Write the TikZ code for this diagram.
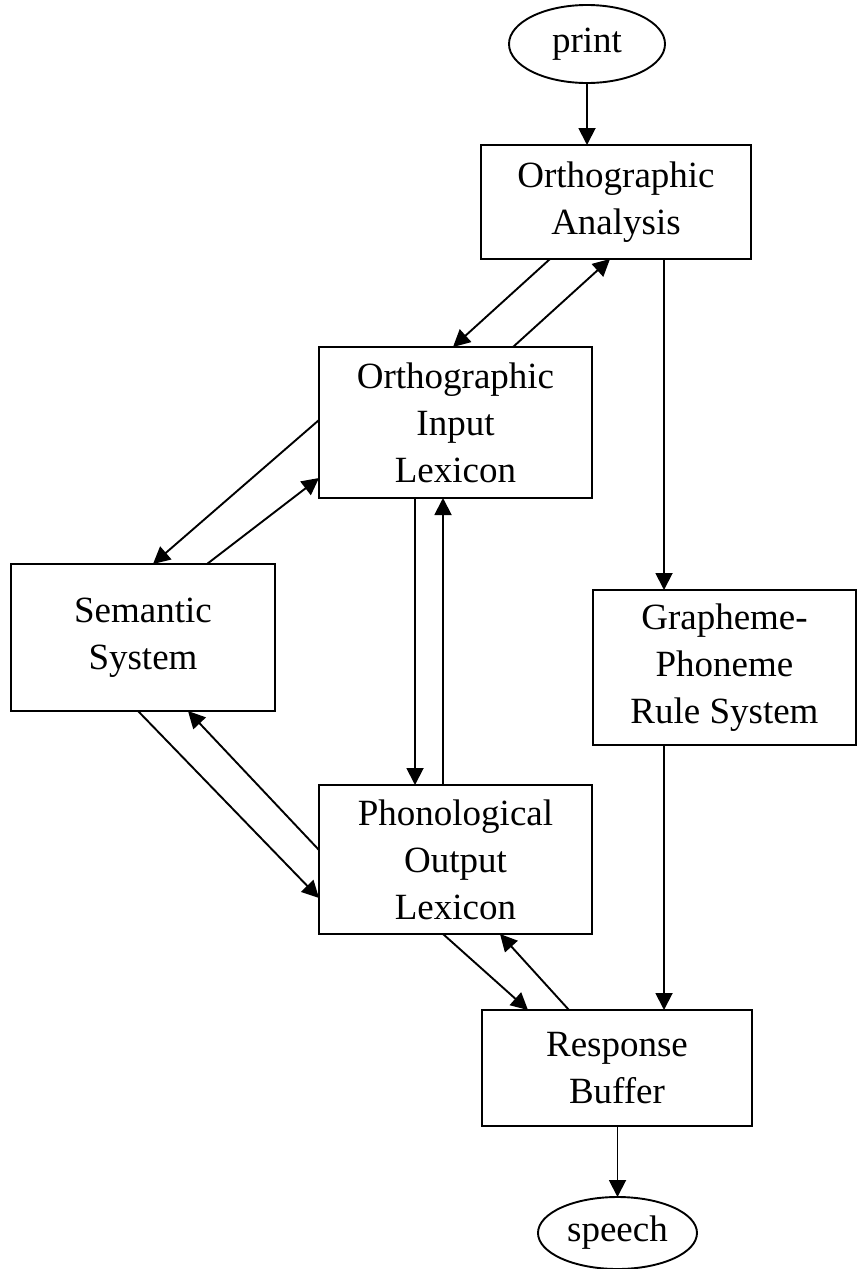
\documentclass[tikz,border=0pt]{standalone}
\usepackage{fontspec}
\setmainfont{Liberation Serif}
\usetikzlibrary{arrows.meta,shapes.geometric}
\begin{document}
\begin{tikzpicture}[x=1pt,y=-1pt,
  every node/.style={inner sep=0pt,outer sep=0pt,align=center,
     font=\fontsize{37}{47}\selectfont},
  box/.style={draw,line width=1.9pt,rectangle},
  oval/.style={draw,line width=1.9pt,ellipse},
  conn/.style={line width=1.9pt,-{Triangle[length=17pt,width=17pt]}}]
\useasboundingbox (0,0) rectangle (858,1269);
\node[oval,minimum width=156pt,minimum height=78pt] (print) at (587,44) {print};
\node[box,minimum width=270pt,minimum height=114pt] (OA) at (616,202) {Orthographic\\Analysis};
\node[box,minimum width=273pt,minimum height=151pt] (OIL) at (455.5,422.5) {Orthographic\\Input\\Lexicon};
\node[box,minimum width=264pt,minimum height=147pt] (SS) at (143,637.5) {Semantic\\System};
\node[box,minimum width=263pt,minimum height=155pt] (GP) at (724.5,667.5) {Grapheme-\\Phoneme\\Rule System};
\node[box,minimum width=273pt,minimum height=149pt] (POL) at (455.5,859.5) {Phonological\\Output\\Lexicon};
\node[box,minimum width=270pt,minimum height=116pt] (RB) at (617,1068) {Response\\Buffer};
\node[oval,minimum width=159pt,minimum height=72pt] (speech) at (617.5,1233) {speech};
% connectors
\draw[conn] (print.south) -- (OA.north -| print.south);
\draw[conn] (OA.south -| 550,0) -- (OIL.north -| 453,0);
\draw[conn] (OIL.north -| 513,0) -- (OA.south -| 610,0);
\draw[conn] (OA.south -| 664,0) -- (GP.north -| 664,0);
\draw[conn] (OIL.west |- 0,420) -- (SS.north -| 153,0);
\draw[conn] (SS.north -| 207,0) -- (OIL.west |- 0,478);
\draw[conn] (OIL.south -| 415,0) -- (POL.north -| 415,0);
\draw[conn] (POL.north -| 443,0) -- (OIL.south -| 443,0);
\draw[conn] (SS.south -| 138,0) -- (POL.west |- 0,898);
\draw[conn] (POL.west |- 0,850) -- (SS.south -| 188,0);
\draw[conn] (POL.south -| 443,0) -- (RB.north -| 528,0);
\draw[conn] (RB.north -| 569,0) -- (POL.south -| 500,0);
\draw[conn] (GP.south -| 664,0) -- (RB.north -| 664,0);
\draw[conn] (RB.south -| speech.north) -- (speech.north);
\end{tikzpicture}
\end{document}
